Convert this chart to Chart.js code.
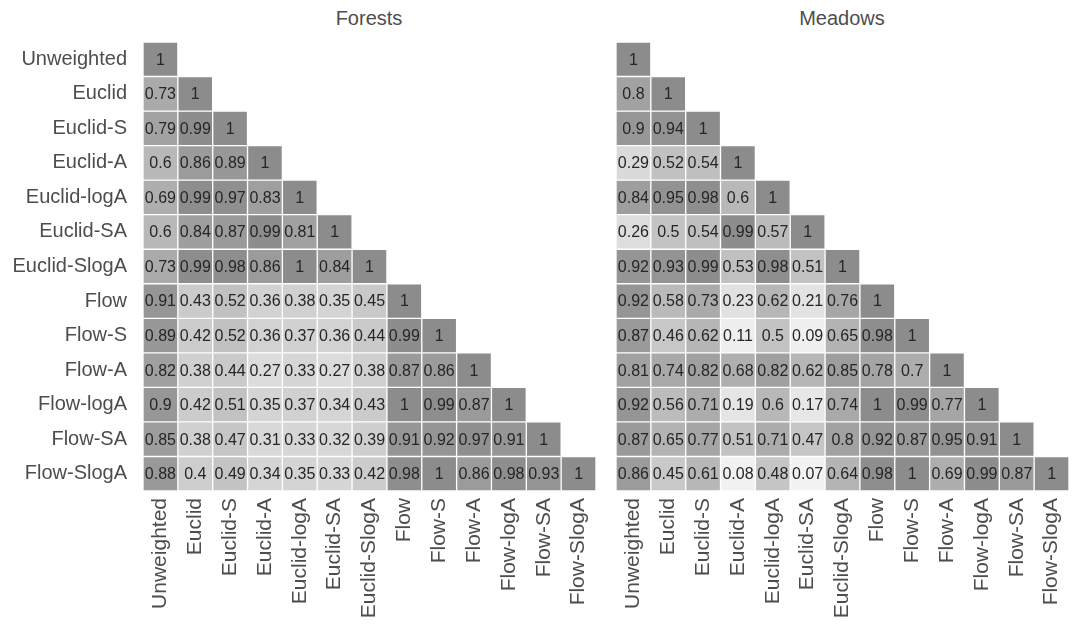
<!DOCTYPE html>
<html>
<head>
<meta charset="utf-8">
<script src="https://cdn.jsdelivr.net/npm/chart.js@4.4.1/dist/chart.umd.min.js"></script>
<style>
  body { margin: 0; background: #fff; font-family: "Liberation Sans", Arial, sans-serif; }
  #wrap { position: relative; width: 1072px; height: 626px; }
  canvas { position: absolute; top: 0; }
  .title { position: absolute; top: 8px; font-size: 20px; line-height: 20px; color: #4d4d4d; transform: translateX(-50%); white-space: nowrap; }
</style>
</head>
<body>
<div id="wrap">
  <div class="title" style="left:369px">Forests</div>
  <div class="title" style="left:842px">Meadows</div>
  <canvas id="forests" width="604" height="626" style="left:0"></canvas>
  <canvas id="meadows" width="468" height="626" style="left:604px"></canvas>
</div>
<script>
// weighting methods (rows and columns)
const methods = ['Unweighted', 'Euclid', 'Euclid-S', 'Euclid-A', 'Euclid-logA', 'Euclid-SA', 'Euclid-SlogA',
                 'Flow', 'Flow-S', 'Flow-A', 'Flow-logA', 'Flow-SA', 'Flow-SlogA'];

// lower triangle of the correlation matrix, row by row
const forests = [
  [1],
  [0.73, 1],
  [0.79, 0.99, 1],
  [0.6, 0.86, 0.89, 1],
  [0.69, 0.99, 0.97, 0.83, 1],
  [0.6, 0.84, 0.87, 0.99, 0.81, 1],
  [0.73, 0.99, 0.98, 0.86, 1, 0.84, 1],
  [0.91, 0.43, 0.52, 0.36, 0.38, 0.35, 0.45, 1],
  [0.89, 0.42, 0.52, 0.36, 0.37, 0.36, 0.44, 0.99, 1],
  [0.82, 0.38, 0.44, 0.27, 0.33, 0.27, 0.38, 0.87, 0.86, 1],
  [0.9, 0.42, 0.51, 0.35, 0.37, 0.34, 0.43, 1, 0.99, 0.87, 1],
  [0.85, 0.38, 0.47, 0.31, 0.33, 0.32, 0.39, 0.91, 0.92, 0.97, 0.91, 1],
  [0.88, 0.4, 0.49, 0.34, 0.35, 0.33, 0.42, 0.98, 1, 0.86, 0.98, 0.93, 1]
];

const meadows = [
  [1],
  [0.8, 1],
  [0.9, 0.94, 1],
  [0.29, 0.52, 0.54, 1],
  [0.84, 0.95, 0.98, 0.6, 1],
  [0.26, 0.5, 0.54, 0.99, 0.57, 1],
  [0.92, 0.93, 0.99, 0.53, 0.98, 0.51, 1],
  [0.92, 0.58, 0.73, 0.23, 0.62, 0.21, 0.76, 1],
  [0.87, 0.46, 0.62, 0.11, 0.5, 0.09, 0.65, 0.98, 1],
  [0.81, 0.74, 0.82, 0.68, 0.82, 0.62, 0.85, 0.78, 0.7, 1],
  [0.92, 0.56, 0.71, 0.19, 0.6, 0.17, 0.74, 1, 0.99, 0.77, 1],
  [0.87, 0.65, 0.77, 0.51, 0.71, 0.47, 0.8, 0.92, 0.87, 0.95, 0.91, 1],
  [0.86, 0.45, 0.61, 0.08, 0.48, 0.07, 0.64, 0.98, 1, 0.69, 0.99, 0.87, 1]
];

const FONT = '"Liberation Sans", Arial, sans-serif';

// grey level from correlation value
function shade(v) {
  const g = Math.round(250 - 110 * v);
  return `rgb(${g},${g},${g})`;
}

// writes the value in the middle of every cell
const cellText = {
  id: 'cellText',
  afterDatasetsDraw(chart) {
    const ctx = chart.ctx;
    ctx.save();
    ctx.font = '16px ' + FONT;
    ctx.fillStyle = '#262626';
    ctx.textAlign = 'center';
    ctx.textBaseline = 'middle';
    chart.data.datasets.forEach((ds, r) => {
      chart.getDatasetMeta(r).data.forEach((bar, c) => {
        if (c > r) return;
        const { x, y, base } = bar.getProps(['x', 'y', 'base'], true);
        ctx.fillText(String(ds.cellValues[c]), x, (y + base) / 2 + 1);
      });
    });
    ctx.restore();
  }
};

function makePanel(id, values, showY, padding) {
  // one floating-bar dataset per row; each cell spans [row, row+1]
  const datasets = methods.map((name, r) => ({
    label: name,
    data: methods.map((_, c) => (c <= r ? [r, r + 1] : null)),
    backgroundColor: methods.map((_, c) => (c <= r ? shade(values[r][c]) : 'transparent')),
    borderColor: 'rgba(255,255,255,0.55)',
    borderWidth: 1,
    borderSkipped: false,
    grouped: false,
    categoryPercentage: 1,
    barPercentage: 1,
    cellValues: values[r]
  }));

  new Chart(document.getElementById(id), {
    type: 'bar',
    data: { labels: methods, datasets },
    plugins: [cellText],
    options: {
      responsive: false,
      animation: false,
      layout: { padding },
      plugins: { legend: { display: false }, tooltip: { enabled: false } },
      scales: {
        x: {
          type: 'category',
          offset: true,
          grid: { display: false, drawTicks: false },
          border: { display: false },
          ticks: {
            autoSkip: false, minRotation: 90, maxRotation: 90, padding: 7,
            color: '#4d4d4d', font: { size: 21, family: FONT }
          },
          afterFit: s => { s.height = 135; s.paddingLeft = 0; s.paddingRight = 0; }
        },
        y: {
          type: 'linear',
          min: 0, max: 13,
          reverse: true,
          display: showY,
          grid: { display: false, drawTicks: false },
          border: { display: false },
          afterBuildTicks: s => { s.ticks = methods.map((_, i) => ({ value: i + 0.5 })); },
          ticks: {
            autoSkip: false, padding: 16,
            color: '#4d4d4d', font: { size: 20, family: FONT },
            callback: (v, i) => methods[i]
          },
          afterFit: s => {
            s.width = showY ? 143 : 0;
            s.paddingTop = 0; s.paddingBottom = 0;
          }
        }
      }
    }
  });
}

makePanel('forests', forests, true, { top: 42, right: 8, left: 0, bottom: 0 });
makePanel('meadows', meadows, false, { top: 42, right: 3, left: 12, bottom: 0 });
</script>
</body>
</html>
